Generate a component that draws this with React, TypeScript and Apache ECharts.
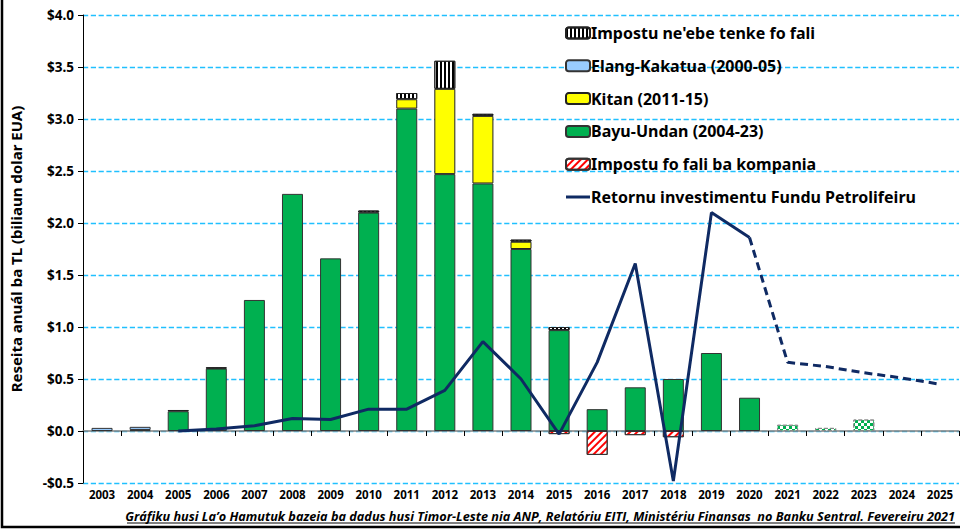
import React, { useEffect, useRef } from "react";
import * as echarts from "echarts";

const years = ["2003","2004","2005","2006","2007","2008","2009","2010","2011","2012","2013","2014","2015","2016","2017","2018","2019","2020","2021","2022","2023","2024","2025"];
const bayuUndan = [null, 0.01, 0.19, 0.6, 1.26, 2.28, 1.66, 2.1, 3.1, 2.47, 2.38, 1.75, 0.97, 0.21, 0.42, 0.5, 0.75, 0.32, null, null, null, null, null];
const elangKakatua = [0.03, 0.03, null, null, null, null, null, null, null, null, null, null, null, null, null, null, null, null, null, null, null, null, null];
const kitan = [null, null, null, null, null, null, null, null, 0.09, 0.82, 0.65, 0.07, null, null, null, null, null, null, null, null, null, null, null];
const taxDue = [null, null, 0.012, 0.012, null, null, null, 0.02, 0.06, 0.27, 0.02, 0.02, 0.03, null, null, null, null, null, null, null, null, null, null];
const taxRefund = [null, null, null, null, null, null, null, null, null, null, null, null, -0.03, -0.23, -0.04, -0.06, null, null, null, null, null, null, null];
const bayuProjected = [null, null, null, null, null, null, null, null, null, null, null, null, null, null, null, null, null, null, 0.06, 0.03, 0.11, null, null];
const fundReturn = [null, null, 0.0, 0.02, 0.05, 0.12, 0.11, 0.21, 0.21, 0.39, 0.86, 0.5, -0.03, 0.66, 1.61, -0.48, 2.1, 1.86, null, null, null, null, null];
const fundReturnProjected = [null, null, null, null, null, null, null, null, null, null, null, null, null, null, null, null, null, 1.86, 0.66, 0.62, 0.56, 0.51, 0.45];
const yTicks = { min: -0.5, max: 4, interval: 0.5 };

const FONT = '"Noto Sans", "Open Sans", sans-serif';

export default function App() {
  const ref = useRef<HTMLDivElement>(null);
  useEffect(() => {
    document.body.style.margin = "0";
    if (!ref.current) return;
    const chart = echarts.init(ref.current, null, { renderer: "svg" });
    const barBase = { type: "bar", stack: "total", barWidth: 21, xAxisIndex: 0 };
    chart.setOption({
      animation: false,
      backgroundColor: "#ffffff",
      textStyle: { fontFamily: FONT },
      grid: { left: 78, right: 1, top: 15, bottom: 46 },
      legend: {
        orient: "vertical",
        left: 560,
        top: 20,
        itemWidth: 24,
        itemHeight: 11,
        itemGap: 16.8,
        textStyle: { fontFamily: FONT, fontWeight: "bold", fontSize: 16, color: "#000", padding: [0, 0, 0, -4] },
        data: [
          "Impostu ne'ebe tenke fo fali",
          "Elang-Kakatua (2000-05)",
          "Kitan (2011-15)",
          "Bayu-Undan (2004-23)",
          "Impostu fo fali ba kompania",
          { name: "Retornu investimentu Fundu Petrolifeiru", icon: "path://M0 0 H24 V3 H0 Z" },
        ],
      },
      xAxis: [
        {
          type: "category",
          data: years,
          position: "bottom",
          axisLine: { show: false, onZero: false },
          axisTick: { show: false },
          splitLine: { show: false },
          axisLabel: { fontFamily: FONT, fontWeight: "bold", fontSize: 11.5, color: "#000", margin: 5, interval: 0 },
        },
        {
          type: "category",
          data: years,
          position: "bottom",
          axisLine: { show: true, onZero: true, lineStyle: { color: "#808080", width: 1.5 } },
          axisTick: { show: true, length: 5, lineStyle: { color: "#000" } },
          splitLine: { show: false },
          axisLabel: { show: false },
        },
      ],
      yAxis: {
        type: "value",
        min: yTicks.min,
        max: yTicks.max,
        interval: yTicks.interval,
        name: "Reseita anuál ba TL (biliaun dolar EUA)",
        nameLocation: "middle",
        nameGap: 60,
        nameTextStyle: { fontFamily: FONT, fontWeight: "bold", fontSize: 15, color: "#000" },
        axisLine: { show: true, lineStyle: { color: "#000", width: 1 } },
        axisTick: { show: true, length: 5, lineStyle: { color: "#000" } },
        axisLabel: {
          fontFamily: FONT,
          fontWeight: "bold",
          fontSize: 13.5,
          color: "#000",
          margin: 9,
          formatter: (v: number) => (v < 0 ? "-$" + Math.abs(v).toFixed(1) : "$" + v.toFixed(1)),
        },
        splitLine: { show: true, lineStyle: { color: "#20c0ff", type: "dashed", dashOffset: 0, width: 1.3, opacity: 1 } },
      },
      series: [
        {
          ...barBase,
          name: "Bayu-Undan (2004-23)",
          data: bayuUndan,
          itemStyle: { color: "#00b050", borderColor: "#333", borderWidth: 1 },
        },
        {
          ...barBase,
          name: "Elang-Kakatua (2000-05)",
          data: elangKakatua,
          itemStyle: { color: "#99ccff", borderColor: "#333", borderWidth: 1 },
        },
        {
          ...barBase,
          name: "Kitan (2011-15)",
          data: kitan,
          itemStyle: { color: "#ffff00", borderColor: "#222", borderWidth: 1 },
        },
        {
          ...barBase,
          name: "Impostu ne'ebe tenke fo fali",
          data: taxDue,
          itemStyle: {
            color: "#ffffff",
            borderColor: "#222",
            borderWidth: 1,
            decal: { symbol: "rect", symbolSize: 1, color: "#000", dashArrayX: [1.2, 1.8], dashArrayY: [3, 0] },
          },
        },
        {
          ...barBase,
          name: "Impostu fo fali ba kompania",
          data: taxRefund,
          itemStyle: {
            color: "#ffffff",
            borderColor: "#333",
            borderWidth: 1,
            decal: { symbol: "rect", symbolSize: 1, color: "#ff0000", dashArrayX: [2, 2.5], dashArrayY: [3, 0], rotation: Math.PI / 4 },
          },
        },
        {
          ...barBase,
          name: "Bayu-Undan (projesaun)",
          data: bayuProjected,
          itemStyle: {
            color: "#ffffff",
            borderColor: "#888",
            borderWidth: 1,
            borderType: "dashed",
            decal: { symbol: "rect", symbolSize: 1, color: "#00b050", dashArrayX: [[3, 3], [0, 3, 3, 0]], dashArrayY: [3, 0] },
          },
        },
        {
          type: "line",
          name: "Retornu investimentu Fundu Petrolifeiru",
          data: fundReturn,
          xAxisIndex: 0,
          symbol: "none",
          connectNulls: false,
          lineStyle: { color: "#0f2a63", width: 3 },
          itemStyle: { color: "#0f2a63" },
          z: 5,
        },
        {
          type: "line",
          name: "Retornu (projesaun)",
          data: fundReturnProjected,
          xAxisIndex: 0,
          symbol: "none",
          lineStyle: { color: "#0f2a63", width: 3, type: [8, 5] },
          itemStyle: { color: "#0f2a63" },
          z: 5,
        },
      ],
      graphic: [
        {
          type: "rect",
          shape: { x: 2, y: -10, width: 975, height: 537 },
          style: { fill: "none", stroke: "#000", lineWidth: 2.5 },
          silent: true,
        },
        {
          type: "text",
          right: 5,
          top: 509,
          style: {
            text: "Gráfiku husi La’o Hamutuk bazeia ba dadus husi Timor-Leste nia ANP, Relatóriu EITI, Ministériu Finansas  no Banku Sentral. Fevereiru 2021",
            fontFamily: '"Open Sans", sans-serif',
            fontStyle: "italic",
            fontWeight: "bold",
            fontSize: 12.7,
            fill: "#000",
          },
        },
        {
          type: "line",
          shape: { x1: 127, y1: 523, x2: 955, y2: 523 },
          style: { stroke: "#000", lineWidth: 1 },
          silent: true,
        },
      ],
    });
    return () => chart.dispose();
  }, []);
  return <div ref={ref} style={{ width: 960, height: 529 }} />;
}
